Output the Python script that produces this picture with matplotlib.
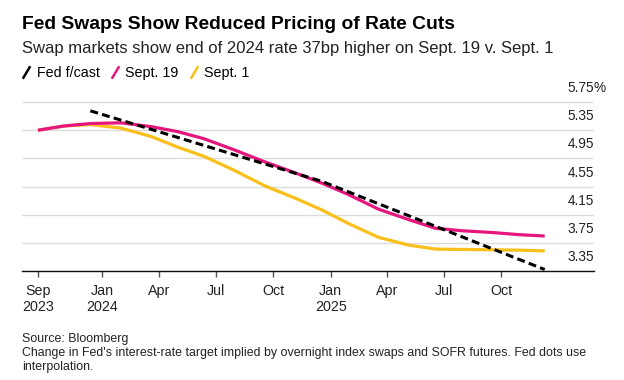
import matplotlib
matplotlib.use("Agg")
import matplotlib.pyplot as plt
import pandas as pd
from matplotlib.lines import Line2D
from matplotlib.transforms import blended_transform_factory, offset_copy

plt.rcParams['font.family'] = ['Liberation Sans', 'DejaVu Sans']

# swap-implied policy rate at each FOMC meeting date
meetings = pd.to_datetime([
    "2023-09-20", "2023-11-01", "2023-12-13", "2024-01-31", "2024-03-20",
    "2024-05-01", "2024-06-12", "2024-07-31", "2024-09-18", "2024-11-07",
    "2024-12-18", "2025-01-29", "2025-03-19", "2025-05-07", "2025-06-18",
    "2025-07-30", "2025-09-17", "2025-10-29", "2025-12-10",
])
sept19 = [5.35, 5.41, 5.445, 5.455, 5.40, 5.33, 5.23, 5.07, 4.90, 4.74,
          4.60, 4.44, 4.23, 4.08, 3.96, 3.925, 3.90, 3.87, 3.85]
sept1 = [5.35, 5.41, 5.43, 5.38, 5.26, 5.11, 4.98, 4.78, 4.56, 4.38,
         4.22, 4.03, 3.83, 3.72, 3.665, 3.66, 3.655, 3.65, 3.64]

# Fed dot plot medians (end of year)
fed_dates = pd.to_datetime(["2023-12-13", "2024-12-18", "2025-12-10"])
fed_dots = [5.625, 4.625, 3.375]

yticks = [3.35, 3.75, 4.15, 4.55, 4.95, 5.35, 5.75]
ytick_labels = ["3.35", "3.75", "4.15", "4.55", "4.95", "5.35", "5.75"]
xticks = pd.to_datetime(["2023-09-20", "2024-01-01", "2024-04-01", "2024-07-01",
                         "2024-10-01", "2025-01-01", "2025-04-01", "2025-07-01",
                         "2025-10-01"])
xtick_labels = ["Sep\n2023", "Jan\n2024", "Apr", "Jul", "Oct", "Jan\n2025",
                "Apr", "Jul", "Oct"]

PINK = "#e5177e"
YELLOW = "#f9bf1b"

fig = plt.figure(figsize=(6.24, 3.80), dpi=100)
ax = fig.add_axes([21.7 / 624, 1 - 271.3 / 380, (594 - 21.7) / 624, 170 / 380])

ax.plot(meetings, sept1, color=YELLOW, lw=2.3, solid_capstyle="butt", zorder=3)
ax.plot(meetings, sept19, color=PINK, lw=2.3, solid_capstyle="butt", zorder=4)
ax.plot(fed_dates, fed_dots, color="black", lw=2.2, linestyle=(0, (2.6, 1.4)), zorder=5)

ax.set_xlim(pd.Timestamp("2023-08-25"), pd.Timestamp("2026-02-27"))
ax.set_ylim(3.35, 5.76)

ax.set_xticks(xticks)
ax.set_xticklabels(xtick_labels, fontsize=10.3, color="#222222")
ax.tick_params(axis="x", length=4, width=1, color="#555555", pad=5)

ax.set_yticks(yticks)
ax.tick_params(axis="y", length=0, labelleft=False)
ax.grid(axis="y", color="#dcdcdc", lw=1)
ax.set_axisbelow(True)

trans = blended_transform_factory(ax.transAxes, ax.transData)
trans = offset_copy(trans, fig=fig, x=0, y=5, units="points")
for v, lab in zip(yticks, ytick_labels):
    ax.text(1.0, v, lab, transform=trans, ha="right", va="bottom",
            fontsize=9.8, color="#222222")
ax.text(1.0, yticks[-1], "%", transform=trans, ha="left", va="bottom",
        fontsize=9.8, color="#222222")

for side in ["top", "right", "left"]:
    ax.spines[side].set_visible(False)
ax.spines["bottom"].set_color("#111111")
ax.spines["bottom"].set_linewidth(1)

fig.text(22 / 624, 1 - 29.3 / 380, "Fed Swaps Show Reduced Pricing of Rate Cuts",
         fontsize=13.9, fontweight="bold", va="baseline", ha="left")
fig.text(22 / 624, 1 - 53.5 / 380,
         "Swap markets show end of 2024 rate 37bp higher on Sept. 19 v. Sept. 1",
         fontsize=12.0, va="baseline", ha="left", color="#222222")

slash = [(-0.6, -1), (0.6, 1)]
handles = [Line2D([], [], color=c, marker=slash, markersize=9, markeredgewidth=1.8,
                  linestyle="none") for c in ["black", PINK, YELLOW]]
fig.legend(handles, ["Fed f/cast", "Sept. 19", "Sept. 1"], loc="center left",
           bbox_to_anchor=(21 / 624, 1 - 72.7 / 380), ncol=3, frameon=False,
           fontsize=10.3, borderpad=0, borderaxespad=0, handlelength=0.7,
           handletextpad=0.4, columnspacing=0.7, numpoints=1)

foot = ["Source: Bloomberg",
        "Change in Fed's interest-rate target implied by overnight index swaps and SOFR futures. Fed dots use",
        "interpolation."]
for i, line in enumerate(foot):
    fig.text(22 / 624, 1 - (342.3 + 14 * i) / 380, line, fontsize=8.9,
             va="baseline", ha="left", color="#222222")

fig.savefig("out.png", dpi=100)
